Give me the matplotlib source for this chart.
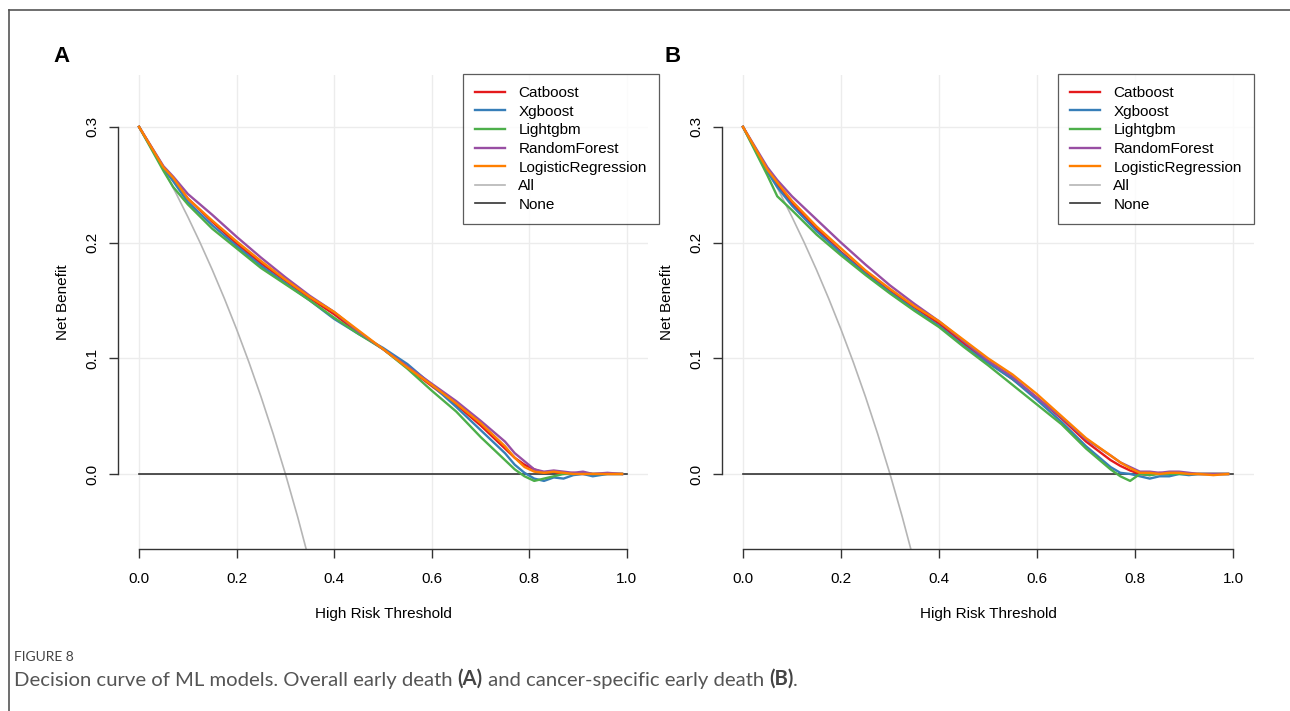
import matplotlib
matplotlib.use("Agg")
from matplotlib import pyplot as plt
from matplotlib.lines import Line2D

plt.rcParams['font.family'] = ['Liberation Sans', 'DejaVu Sans']

# threshold grid shared by the model curves
thresholds = [0, 0.05, 0.07, 0.1, 0.15, 0.2, 0.25, 0.3, 0.35, 0.4, 0.45, 0.5, 0.55,
              0.6, 0.65, 0.7, 0.75, 0.77, 0.79, 0.81, 0.83, 0.85, 0.87, 0.89,
              0.91, 0.93, 0.96, 0.99]

models = ['Catboost', 'Xgboost', 'Lightgbm', 'RandomForest', 'LogisticRegression']

# panel A - overall early death
nb_a_cat = [0.3, 0.265, 0.255, 0.238, 0.218, 0.199, 0.182, 0.167, 0.152, 0.138, 0.122, 0.108, 0.092,
            0.076, 0.060, 0.042, 0.022, 0.014, 0.008, 0.004, 0.001, 0.002, 0.000, 0.001, 0.000, 0.000, 0.000, 0.000]
nb_a_xgb = [0.3, 0.264, 0.253, 0.235, 0.215, 0.197, 0.180, 0.165, 0.150, 0.134, 0.121, 0.109, 0.095,
            0.077, 0.058, 0.038, 0.018, 0.008, 0.001, -0.004, -0.006, -0.003, -0.004, -0.001, 0.000, -0.002, 0.000, 0.000]
nb_a_lgb = [0.3, 0.262, 0.248, 0.233, 0.212, 0.195, 0.178, 0.164, 0.150, 0.135, 0.121, 0.108, 0.091,
            0.072, 0.054, 0.032, 0.012, 0.004, -0.002, -0.006, -0.004, -0.002, 0.000, 0.000, 0.001, 0.000, 0.000, 0.000]
nb_a_rf = [0.3, 0.266, 0.257, 0.242, 0.224, 0.205, 0.187, 0.170, 0.154, 0.140, 0.123, 0.108, 0.093,
           0.078, 0.063, 0.046, 0.028, 0.018, 0.011, 0.004, 0.002, 0.003, 0.002, 0.001, 0.002, 0.000, 0.001, 0.000]
nb_a_lr = [0.3, 0.265, 0.256, 0.238, 0.219, 0.201, 0.184, 0.168, 0.153, 0.140, 0.124, 0.108, 0.092,
           0.077, 0.061, 0.044, 0.024, 0.014, 0.006, 0.002, 0.001, 0.002, 0.001, 0.000, 0.000, 0.000, 0.000, 0.000]

# panel B - cancer-specific early death
nb_b_cat = [0.3, 0.262, 0.250, 0.234, 0.212, 0.192, 0.174, 0.158, 0.144, 0.130, 0.113, 0.097, 0.082,
            0.066, 0.048, 0.028, 0.012, 0.007, 0.003, 0.000, -0.001, 0.001, 0.000, 0.001, 0.000, 0.000, 0.000, 0.000]
nb_b_xgb = [0.3, 0.261, 0.248, 0.232, 0.210, 0.191, 0.173, 0.157, 0.142, 0.128, 0.111, 0.096, 0.082,
            0.064, 0.045, 0.024, 0.006, 0.001, 0.000, -0.002, -0.004, -0.002, -0.002, 0.000, -0.001, 0.000, 0.000, 0.000]
nb_b_lgb = [0.3, 0.258, 0.240, 0.228, 0.207, 0.189, 0.172, 0.156, 0.141, 0.127, 0.110, 0.094, 0.077,
            0.060, 0.043, 0.022, 0.004, -0.002, -0.006, 0.000, -0.001, 0.000, 0.000, 0.000, 0.000, 0.000, 0.000, 0.000]
nb_b_rf = [0.3, 0.265, 0.254, 0.240, 0.220, 0.200, 0.181, 0.163, 0.147, 0.132, 0.115, 0.098, 0.084,
           0.066, 0.049, 0.030, 0.016, 0.010, 0.006, 0.002, 0.002, 0.001, 0.002, 0.002, 0.001, 0.000, 0.000, 0.000]
nb_b_lr = [0.3, 0.263, 0.252, 0.236, 0.214, 0.195, 0.176, 0.160, 0.145, 0.132, 0.116, 0.100, 0.086,
           0.069, 0.050, 0.031, 0.016, 0.010, 0.005, 0.001, 0.001, 0.000, 0.001, 0.001, 0.000, 0.000, -0.001, 0.000]

# treat-all reference curve (same prevalence in both panels)
all_t = [0, 0.025, 0.05, 0.075, 0.1, 0.125, 0.15, 0.175, 0.2, 0.225, 0.25, 0.275, 0.3, 0.325, 0.35]
all_nb = [0.3, 0.2821, 0.2632, 0.2432, 0.2222, 0.2, 0.1765, 0.1515, 0.125, 0.0968, 0.0667,
          0.0345, 0.0, -0.037, -0.0769]

# treat-none reference
none_t = [0, 1]
none_nb = [0, 0]

xticks = [0, 0.2, 0.4, 0.6, 0.8, 1.0]
yticks = [0, 0.1, 0.2, 0.3]

colors = ['#e41a1c', '#377eb8', '#4daf4a', '#984ea3', '#ff7f00']
W, H = 1290, 711


def draw_panel(rect, curves, letter, letter_xy, legend_corner):
    l, b, r, t = rect
    ax = fig.add_axes([l / W, 1 - b / H, (r - l) / W, (b - t) / H])
    ax.set_xlim(-0.0432, 1.0432)
    ax.set_ylim(-0.0652, 0.3452)
    ax.set_xticks(xticks)
    ax.set_yticks(yticks)
    ax.set_xticklabels(['0.0', '0.2', '0.4', '0.6', '0.8', '1.0'])
    ax.set_yticklabels(['0.0', '0.1', '0.2', '0.3'], rotation=90, va='center')
    ax.grid(True, color='#ececec', lw=1)
    ax.set_axisbelow(True)
    for s in ['top', 'right']:
        ax.spines[s].set_visible(False)
    ax.spines['left'].set_bounds(0, 0.3)
    ax.spines['bottom'].set_bounds(0, 1)
    for s in ['left', 'bottom']:
        ax.spines[s].set_color('#333333')
        ax.spines[s].set_linewidth(1)
    ax.tick_params(length=6.5, width=1, color='#333333', labelsize=11)
    ax.tick_params(axis='x', pad=10)
    ax.tick_params(axis='y', pad=7)

    ax.plot(all_t, all_nb, color='#b5b5b5', lw=1.2)
    ax.plot(none_t, none_nb, color='#333333', lw=1.2)
    for name, vals, c in zip(models, curves, colors):
        ax.plot(thresholds, vals, color=c, lw=1.7)

    fig.text(letter_xy[0] / W, 1 - letter_xy[1] / H, letter, fontsize=16, fontweight='bold',
             ha='left', va='center')
    cx = (l + r) / 2
    fig.text(cx / W, 1 - 614 / H, 'High Risk Threshold', fontsize=11, ha='center', va='center')
    fig.text((l - 55) / W, 1 - 302 / H, 'Net Benefit', fontsize=11, ha='center', va='center',
             rotation=90)

    handles = [Line2D([], [], color=c, lw=1.7) for c in colors]
    handles += [Line2D([], [], color='#b5b5b5', lw=1.2), Line2D([], [], color='#333333', lw=1.2)]
    leg = fig.legend(handles, models + ['All', 'None'], loc='upper right',
                     bbox_to_anchor=(legend_corner[0] / W, 1 - legend_corner[1] / H),
                     borderaxespad=0, fontsize=11, frameon=True, fancybox=False,
                     handlelength=2.0, handletextpad=0.85, labelspacing=0.3, borderpad=0.8)
    leg.get_frame().set_edgecolor('#333333')
    leg.get_frame().set_linewidth(0.9)
    return ax


fig = plt.figure(figsize=(W / 100, H / 100), dpi=100)

draw_panel((118, 549.4, 648, 74.6), [nb_a_cat, nb_a_xgb, nb_a_lgb, nb_a_rf, nb_a_lr],
           'A', (53, 56), (659, 74))
draw_panel((721.8, 549.4, 1254.2, 74.6), [nb_b_cat, nb_b_xgb, nb_b_lgb, nb_b_rf, nb_b_lr],
           'B', (665, 56), (1254, 74))

# page frame
fig.add_artist(Line2D([9 / W, 1], [1 - 10 / H, 1 - 10 / H], transform=fig.transFigure,
                      color='#555555', lw=1.2))
fig.add_artist(Line2D([9 / W, 9 / W], [1 - 10 / H, 0], transform=fig.transFigure,
                      color='#555555', lw=1.2))

# caption
fig.text(14 / W, 1 - 657 / H, 'FIGURE 8', fontsize=10, family='Lato', color='#444444',
         ha='left', va='center')
cap_parts = [('Decision curve of ML models. Overall early death ', 'normal'),
             ('(A)', 'bold'),
             (' and cancer-specific early death ', 'normal'),
             ('(B)', 'bold'),
             ('.', 'normal')]
prev = fig.text(14 / W, 1 - 686 / H, cap_parts[0][0], fontsize=14.6, family='Lato',
                color='#555555', ha='left', va='baseline')
for txt, wt in cap_parts[1:]:
    prev = plt.annotate(
        txt, xy=(1, 0), xycoords=prev, va='bottom', ha='left', fontsize=14.6, family='Lato',
        fontweight=wt, color='#444444' if wt == 'bold' else '#555555', annotation_clip=False)

fig.savefig('out.png', dpi=100)
